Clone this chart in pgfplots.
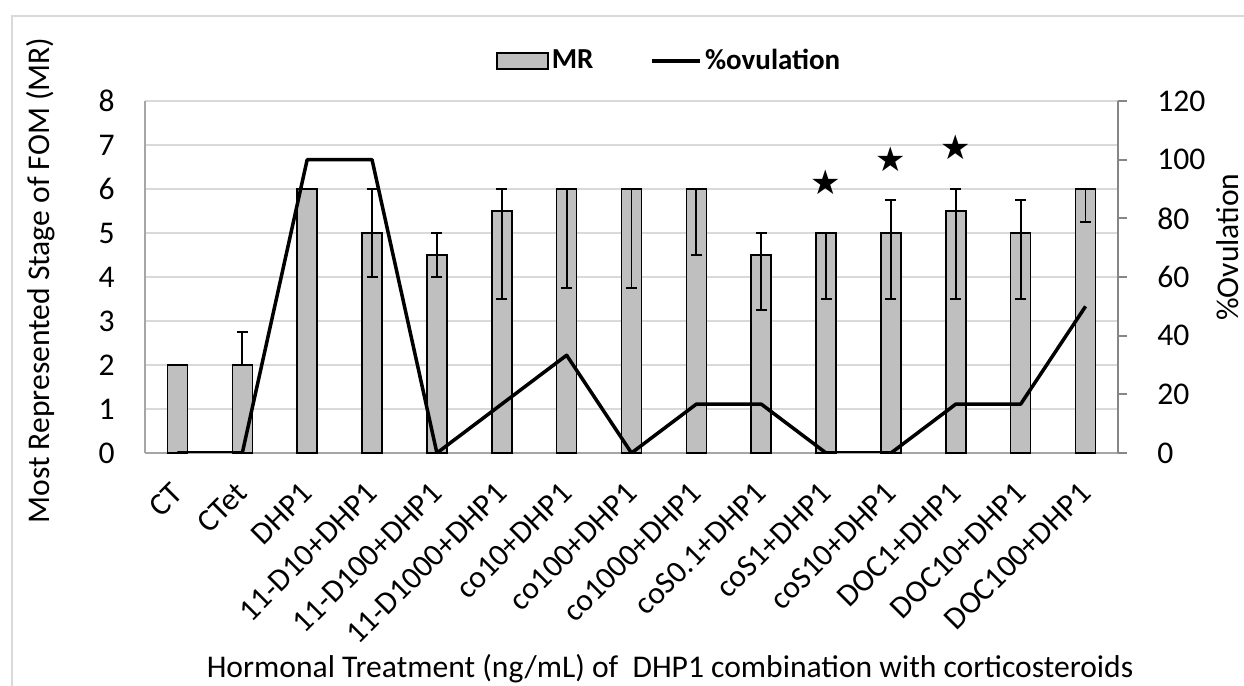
\documentclass[border=0pt]{standalone}
\usepackage{fontspec}
\setmainfont{Carlito}
\newfontfamily\starfont{DejaVu Sans}
\usepackage{pgfplots}
\usepackage{pgfplotstable}
\pgfplotsset{compat=1.18}
\definecolor{barfill}{HTML}{BFBFBF}
\definecolor{gridc}{HTML}{D9D9D9}
\definecolor{laxis}{HTML}{A6A6A6}
\definecolor{raxis}{HTML}{868686}
\newcommand{\mainsize}{\fontsize{15.8bp}{18bp}\selectfont}

\pgfplotstableread{
x  mr   ep   em   ov
0  2    0    0    0
1  2    0.75 0    0
2  6    0    0    100
3  5    1    1    100
4  4.5  0.5  0.5  0
5  5.5  0.5  2    16.67
6  6    0    2.25 33.33
7  6    0    2.25 0
8  6    0    1.5  16.67
9  4.5  0.5  1.25 16.67
10 5    0    1.5  0
11 5    0.75 1.5  0
12 5.5  0.5  2    16.67
13 5    0.75 1.5  16.67
14 6    0    0.75 50
}\datatable

\begin{document}
\begin{tikzpicture}
\pgfplotsset{
 base/.style={scale only axis, width=486.5bp, height=176bp, xmin=-0.5, xmax=14.5,
   /pgf/number format/assume math mode=true,
   tick label style={font=\mainsize}, label style={font=\mainsize, inner sep=0pt}},
}
\begin{axis}[base, ymin=0, ymax=8, ytick={0,...,8},
  axis x line*=bottom, axis y line*=left,
  axis line style={-},
  every outer x axis line/.append style={-, draw=laxis, line width=1bp},
  every outer y axis line/.append style={-, draw=laxis, line width=1.2bp},
  xtick={0,...,14},
  xticklabels={CT, CTet, DHP1, 11-D10+DHP1, 11-D100+DHP1, 11-D1000+DHP1, co10+DHP1, co100+DHP1, co1000+DHP1, coS0.1+DHP1, coS1+DHP1, coS10+DHP1, DOC1+DHP1, DOC10+DHP1, DOC100+DHP1},
  xtick style={draw=none}, ytick style={draw=none},
  xticklabel style={rotate=45, anchor=east, inner sep=0pt},
  xticklabel shift=17.5bp,
  yticklabel style={inner sep=0pt, anchor=east, xshift=-15bp},
  ymajorgrids, grid style={gridc, line width=0.75bp},
  xlabel={Hormonal Treatment (ng/mL) of~ DHP1 combination with corticosteroids},
  xlabel style={at={([yshift=-112bp]axis description cs:0.5396,0)}, anchor=base},
  ylabel={Most Represented Stage of FOM (MR)},
  ylabel style={at={([xshift=-47.5bp]axis description cs:0,0.49)}, anchor=base},
]
\addplot[ybar, bar width=10bp, fill=barfill, draw=black, line width=0.75bp,
  error bars/.cd, y dir=both, y explicit,
  error bar style={line width=0.9bp, black},
  error mark options={rotate=90, mark size=2.75bp, line width=0.9bp, black}]
  table[x=x, y=mr, y error plus=ep, y error minus=em] {\datatable};
\addplot[only marks, mark=text, text mark={\starfont\fontsize{17bp}{17bp}\selectfont ★}, text mark as node=true]
  coordinates {(10,6.16) (11,6.68) (12,6.95)};
\end{axis}
\begin{axis}[base, ymin=0, ymax=120, ytick={0,20,...,120},
  axis y line*=right, axis x line=none,
  axis line style={-},
  every outer y axis line/.append style={-, draw=raxis, line width=1bp},
  ytick style={draw=raxis, line width=1bp},
  tick align=outside, major tick length=4.5bp,
  yticklabel style={inner sep=0pt}, yticklabel shift=15bp,
  ylabel={\%Ovulation},
  ylabel style={at={([xshift=60bp]axis description cs:1,0.585)}, anchor=base},
  legend columns=2,
  legend style={at={(axis description cs:0.3607,1.1136)}, anchor=west, draw=none, fill=none,
    font=\fontsize{14.5bp}{16bp}\selectfont\bfseries, inner sep=0pt,
    nodes={inner sep=1.5bp},
    /tikz/every even column/.append style={column sep=27bp}},
]
\addlegendimage{legend image code/.code={\draw[fill=barfill, draw=black, line width=0.75bp] (0bp,-4bp) rectangle (25.5bp,4bp);}}
\addlegendentry{MR}
\addplot[black, line width=1.75bp, line join=round, mark=none,
  legend image code/.code={\draw[black, line width=1.75bp] (0bp,0bp) -- (24bp,0bp);}]
  table[x=x, y=ov] {\datatable};
\addlegendentry{\%ovulation}
\end{axis}
\draw[gridc, line width=0.75bp] (-66.5bp,-300bp) rectangle (800bp,218.5bp);
\pgfresetboundingbox
\path[use as bounding box] (-72.5bp,-116.5bp) rectangle (549.5bp,226.5bp);
\end{tikzpicture}
\end{document}
